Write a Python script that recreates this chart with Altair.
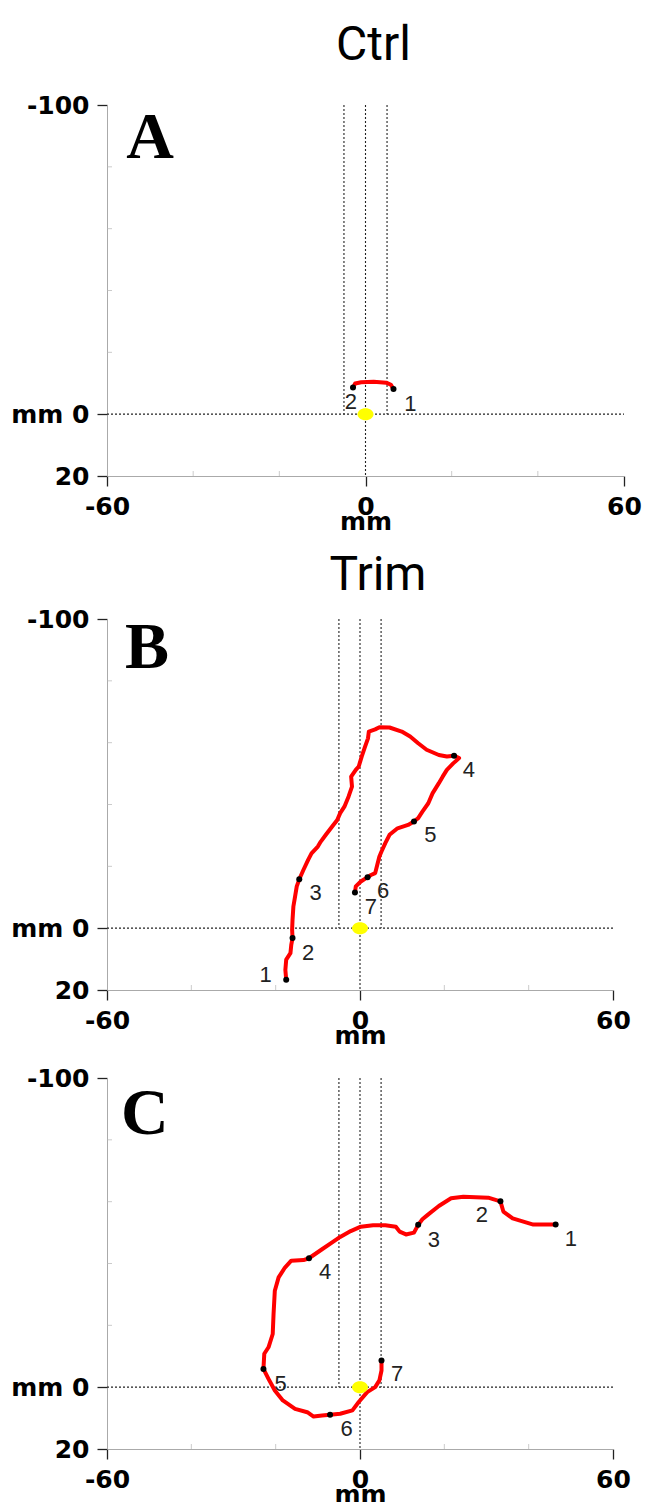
import altair as alt
import pandas as pd

# ---------------- data (mm) ----------------
# Panel A (Ctrl)
A_X = [6.5, 5.9, 4.8, 1.9, -1.0, -2.4, -2.9]
A_Y = [-8.1, -9.5, -10.2, -10.5, -10.3, -9.9, -8.6]
A_IDX = [0, 6]
A_LAB = ["1", "2"]
A_LAB_X = [10.4, -3.4]
A_LAB_Y = [-3.4, -3.8]

# Panel B (Trim)
B_X = [-17.5, -17.7, -17.5, -16.5, -16.3, -16.0, -16.1, -16.0, -15.8, -15.4,
       -15.0, -14.4, -13.4, -12.3, -11.5, -10.0, -9.3, -8.1, -6.6, -5.4,
       -4.7, -3.7, -2.7, -1.9, -2.1, -1.0, -0.3, 0.4, 1.2, 1.9,
       2.1, 3.6, 4.6, 7.0, 9.9, 11.9, 13.8, 15.8, 18.7, 20.6,
       22.3, 23.5, 22.1, 20.6, 19.6, 18.7, 17.2, 16.2, 14.8, 13.8,
       12.8, 11.4, 8.9, 7.0, 6.0, 5.1, 4.6, 4.1, 3.6, 2.6,
       1.8, 0.2, -1.0, -1.2]
B_Y = [16.7, 13.5, 10.2, 8.1, 5.4, 3.2, 0.5, -2.7, -7.0, -10.2,
       -13.5, -15.8, -18.9, -22.1, -24.2, -26.4, -28.0, -30.2, -32.9, -35.0,
       -37.2, -39.3, -42.6, -45.8, -49.0, -51.2, -52.3, -55.5, -58.7, -61.4,
       -63.6, -64.3, -65.0, -64.9, -63.6, -62.0, -59.8, -57.7, -56.0, -55.5,
       -55.8, -55.0, -53.3, -51.2, -49.0, -46.9, -43.6, -40.4, -37.7, -35.6,
       -34.5, -33.4, -32.3, -30.2, -27.5, -24.8, -23.2, -20.5, -17.8, -17.2,
       -16.5, -15.1, -13.5, -11.5]
B_IDX = [0, 5, 11, 40, 50, 60, 63]
B_LAB = ["1", "2", "3", "4", "5", "6", "7"]
B_LAB_X = [-22.4, -12.3, -10.5, 25.8, 16.7, 5.5, 2.6]
B_LAB_Y = [15.1, 8.1, -11.3, -51.2, -30.2, -11.9, -7.0]

# Panel C
C_X = [46.4, 41.1, 36.2, 34.0, 33.3, 30.4, 24.5, 21.6, 18.7, 16.2,
       14.8, 13.8, 12.8, 10.9, 9.4, 8.5, 6.0, 3.1, 0.2, -2.2,
       -4.7, -6.6, -9.0, -12.1, -13.4, -16.3, -17.8, -19.3, -20.2, -20.5,
       -20.7, -21.7, -22.7, -22.9, -21.7, -20.2, -18.3, -15.4, -12.5, -11.0,
       -9.0, -7.1, -4.7, -1.8, -0.3, 1.7, 3.6, 4.6, 5.1, 5.1]
C_Y = [-52.6, -52.6, -54.6, -56.8, -60.1, -61.3, -61.6, -61.1, -58.6, -55.9,
       -54.3, -52.5, -50.0, -49.4, -50.3, -51.9, -52.4, -52.4, -51.9, -50.5,
       -48.6, -46.8, -44.6, -41.7, -41.1, -40.9, -38.7, -35.5, -31.2, -23.7,
       -17.2, -12.9, -10.8, -5.9, -2.7, 1.1, 4.3, 7.0, 8.1, 9.5,
       9.2, 8.9, 8.6, 7.5, 4.8, 1.6, 0.0, -2.2, -5.4, -8.6]
C_IDX = [0, 4, 11, 23, 33, 41, 49]
C_LAB = ["1", "2", "3", "4", "5", "6", "7"]
C_LAB_X = [50.0, 28.9, 17.5, -8.3, -18.8, -3.2, 8.8]
C_LAB_Y = [-47.8, -55.7, -47.6, -37.1, -1.1, 13.4, -4.3]

# reference guides (dotted lines)
GUIDE_X = [-5, 5, 0, -60]
GUIDE_X2 = [-5, 5, 0, 60]
GUIDE_Y = [-100, -100, -100, 0]
GUIDE_Y2 = [0, 0, 20, 0]

ORIGIN_X = [0]
ORIGIN_Y = [0]

X_TICKS = [-60, 0, 60]
Y_TICKS = [-100, 0, 20]
X_MINOR = [-40, -20, 20, 40]
Y_MINOR = [-80, -60, -40, -20]

LETTERS = ["A", "B", "C"]
LETTER_X = [-50, -50.5, -51]
LETTER_Y = [-83, -84, -82]

TITLES = ["Ctrl", "Trim", None]

ELLIPSE = "M -1 0 A 1 0.75 0 1 1 1 0 A 1 0.75 0 1 1 -1 0 Z"


def panel(tx, ty, idx, lab, lab_x, lab_y, k, width, title=None, title_offset=15, title_dx=0):
    trace = pd.DataFrame({"x": tx, "y": ty, "i": list(range(len(tx)))})
    dots = pd.DataFrame({"x": [tx[j] for j in idx], "y": [ty[j] for j in idx]})
    labels = pd.DataFrame({"x": lab_x, "y": lab_y, "t": lab})
    guides = pd.DataFrame({"x": GUIDE_X, "x2": GUIDE_X2, "y": GUIDE_Y, "y2": GUIDE_Y2})
    origin = pd.DataFrame({"x": ORIGIN_X, "y": ORIGIN_Y})
    xminor = pd.DataFrame({"x": X_MINOR, "y": [20] * len(X_MINOR)})
    yminor = pd.DataFrame({"x": [-60] * len(Y_MINOR), "y": Y_MINOR})
    letter = pd.DataFrame({"x": [LETTER_X[k]], "y": [LETTER_Y[k]], "t": [LETTERS[k]]})

    xs = alt.Scale(domain=[-60, 60], nice=False, zero=False)
    ys = alt.Scale(domain=[-100, 20], reverse=True, nice=False, zero=False)
    common = dict(labelFont="DejaVu Sans", labelFontWeight="bold", labelFontSize=25,
                  labelColor="black", domainColor="#aaaaaa", domainWidth=1,
                  tickColor="#222222", tickWidth=1.3, tickSize=10, grid=False,
                  labelFlush=False, labelOverlap=False)
    xaxis = alt.Axis(values=X_TICKS, title="mm", labelExpr="toString(datum.value)",
                     labelPadding=8, titlePadding=-10, titleFont="DejaVu Sans",
                     titleFontWeight="bold", titleFontSize=25, titleColor="black", **common)
    yaxis = alt.Axis(values=Y_TICKS, title=None,
                     labelExpr="datum.value == 0 ? 'mm 0' : toString(datum.value)",
                     labelPadding=8, **common)
    X = alt.X("x:Q", scale=xs, axis=xaxis)
    Y = alt.Y("y:Q", scale=ys, axis=yaxis)

    rules = alt.Chart(guides).mark_rule(strokeDash=[2, 2], color="#222222", strokeWidth=1.1).encode(
        x=X, y=Y, x2="x2:Q", y2="y2:Q")
    tx_minor = alt.Chart(xminor).mark_tick(orient="vertical", size=5, thickness=1,
                                           color="#b5b5b5", yOffset=-2.5).encode(x=X, y=Y)
    ty_minor = alt.Chart(yminor).mark_tick(orient="horizontal", size=5, thickness=1,
                                           color="#b5b5b5", xOffset=2.5).encode(x=X, y=Y)
    line = alt.Chart(trace).mark_line(color="#ff0000", strokeWidth=4, strokeCap="round",
                                      strokeJoin="round").encode(x=X, y=Y, order="i:Q")
    pts = alt.Chart(dots).mark_circle(color="black", size=36, opacity=1).encode(x=X, y=Y)
    yel = alt.Chart(origin).mark_point(shape=ELLIPSE, filled=True, color="#ffff00",
                                       size=256, opacity=1).encode(x=X, y=Y)
    txt = alt.Chart(labels).mark_text(font="Liberation Sans", fontSize=22, color="#222222",
                                      align="center", baseline="middle").encode(x=X, y=Y, text="t:N")
    let = alt.Chart(letter).mark_text(font="Liberation Serif", fontWeight="bold", fontSize=66,
                                      color="black", align="center",
                                      baseline="alphabetic").encode(x=X, y=Y, text="t:N")
    ch = alt.layer(rules, tx_minor, ty_minor, line, pts, yel, txt, let).properties(
        width=width, height=371)
    if title:
        ch = ch.properties(title=alt.Title(title, fontSize=48, font="Roboto", fontWeight="normal",
                                           anchor="middle", baseline="alphabetic",
                                           offset=title_offset, dx=title_dx, color="black"))
    return ch


pa = panel(A_X, A_Y, A_IDX, A_LAB, A_LAB_X, A_LAB_Y, 0, 517, TITLES[0], title_offset=-15, title_dx=8)
pb = panel(B_X, B_Y, B_IDX, B_LAB, B_LAB_X, B_LAB_Y, 1, 506, TITLES[1], title_offset=-31, title_dx=18)
pc = panel(C_X, C_Y, C_IDX, C_LAB, C_LAB_X, C_LAB_Y, 2, 506)

inner = alt.vconcat(pb, pc, spacing=18)
chart = alt.vconcat(pa, inner, spacing=18).properties(
    padding={"left": 10, "top": 22, "right": 0, "bottom": 0},
    background="white"
).configure_view(stroke="transparent", strokeWidth=0)

chart.save("out.html", embed_options={"renderer": "svg", "actions": False})
